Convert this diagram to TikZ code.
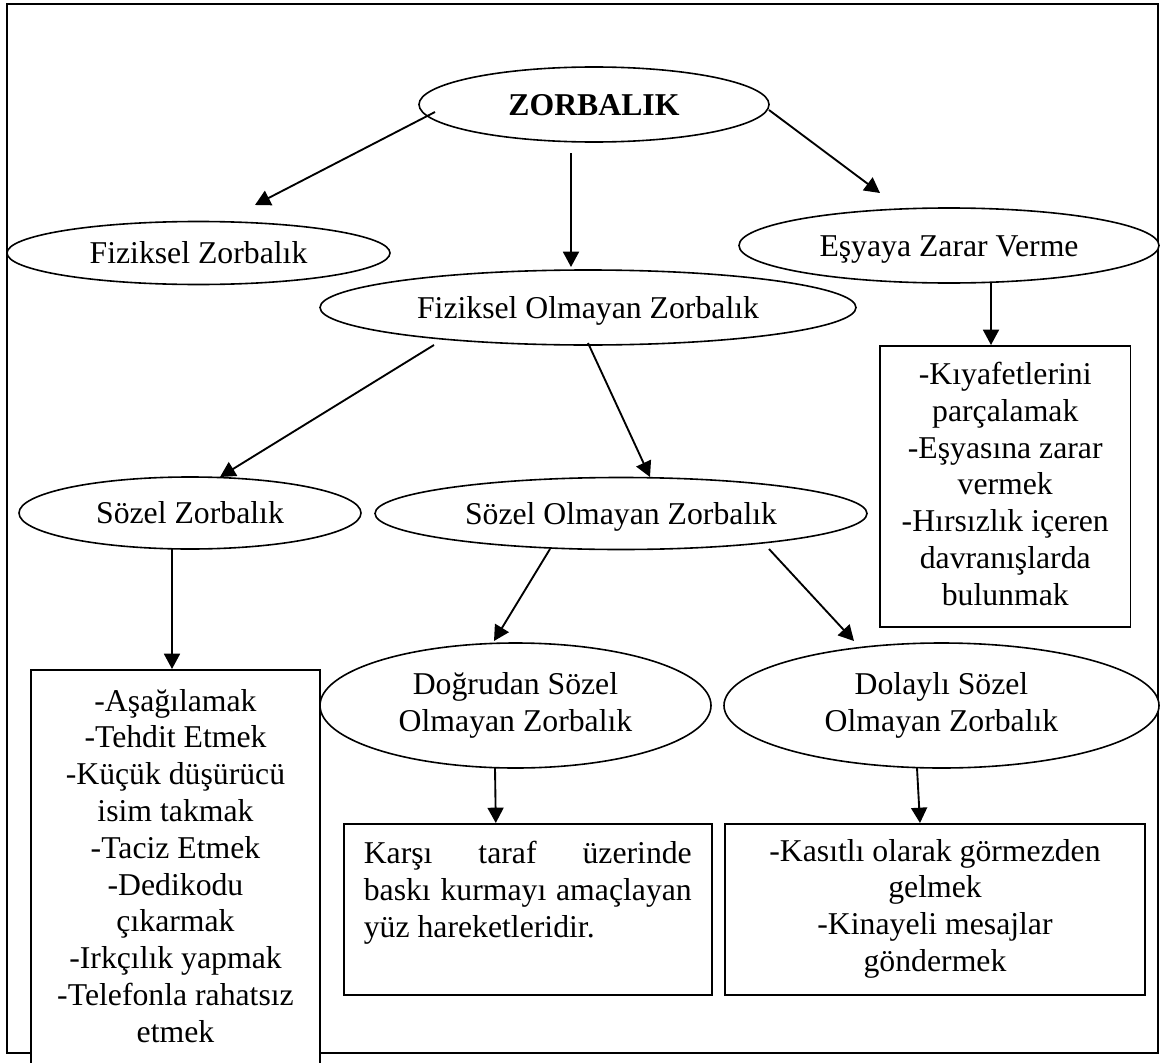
\documentclass[tikz,border=0pt]{standalone}
\usepackage{fontspec}
\setmainfont{Liberation Serif}
\usetikzlibrary{shapes.geometric,arrows.meta,calc}
\newlength\pxl
\setlength\pxl{0.75pt}
\begin{document}
\begin{tikzpicture}[x=0.75pt,y=-0.75pt,
  every node/.style={font=\fontsize{23.8pt}{27.6pt}\selectfont},
  oval/.style={draw, ellipse, line width=1.2pt, fill=white, inner sep=0pt, align=center},
  oneline/.style={text height=16.3pt, text depth=0pt},
  boxn/.style={draw, rectangle, line width=1.2pt, fill=white, inner xsep=0pt},
  arr/.style={line width=1.4pt, -{Triangle[length=11.5pt,width=12pt]}},
  frm/.style={line width=1.1pt}]
\useasboundingbox (0,0) rectangle (1160,1063);
\clip (0,0) rectangle (1160,1063);
\draw[frm] (7,4) rectangle (1158,1053);

% ellipses
\node[oval, oneline, minimum width=262.5pt, minimum height=56.25pt] (zor) at (594,104.5) {\textbf{ZORBALIK}};
\node[oval, oneline, minimum width=287.25pt, minimum height=47.25pt] (fiz) at (198.5,253) {Fiziksel Zorbalık};
\node[oval, oneline, minimum width=315pt, minimum height=56.25pt] (esy) at (949,245.5) {Eşyaya Zarar Verme};
\node[oval, oneline, minimum width=402pt, minimum height=56.25pt] (fom) at (588,307.5) {Fiziksel Olmayan Zorbalık};
\node[oval, oneline, minimum width=256.5pt, minimum height=54pt] (soz) at (190,513) {Sözel Zorbalık};
\node[oval, oneline, minimum width=369pt, minimum height=54pt] (som) at (621,513.5) {Sözel Olmayan Zorbalık};
\node[oval, minimum width=293.25pt, minimum height=93.75pt] (dog) at (515.5,705.5) {Doğrudan Sözel\\Olmayan Zorbalık};
\node[oval, minimum width=326.25pt, minimum height=93.75pt] (dol) at (941.5,705.5) {Dolaylı Sözel\\Olmayan Zorbalık};

% boxes
\node[boxn, anchor=north, inner ysep=12.2pt] (kiy) at (1005.25,345)
  {\parbox[t][248.4\pxl][t]{250.5\pxl}{\centering -Kıyafetlerini\\parçalamak\\-Eşyasına zarar\\vermek\\-Hırsızlık içeren\\davranışlarda\\bulunmak}};
\node[boxn, anchor=north, inner ysep=14.5pt] (b1) at (175.5,669)
  {\parbox[t][420\pxl][t]{289\pxl}{\centering -Aşağılamak\\-Tehdit Etmek\\-Küçük düşürücü\\isim takmak\\-Taciz Etmek\\-Dedikodu\\çıkarmak\\-Irkçılık yapmak\\-Telefonla rahatsız\\etmek}};
\node[boxn, anchor=north west, inner xsep=15pt, inner ysep=13pt] (kar) at (343,823)
  {\parbox[t][136.4\pxl][t]{328\pxl}{\hyphenpenalty=10000\exhyphenpenalty=10000 Karşı taraf üzerinde\linebreak baskı kurmayı amaçlayan\linebreak yüz hareketleridir.}};
\node[boxn, anchor=north, inner ysep=11.5pt] (kas) at (935,823)
  {\parbox[t][140.4\pxl][t]{420\pxl}{\centering -Kasıtlı olarak görmezden\\gelmek\\-Kinayeli mesajlar\\göndermek}};

% arrows
\draw[arr] ($(zor.center)+(-159,7.5)$) -- ($(fiz.center)+(56.5,-48)$);
\draw[arr] ($(zor.center)+(-23,48.5)$) -- ($(fom.center)+(-17,-40.5)$);
\draw[arr] ($(zor.center)+(175,5.5)$) -- ($(esy.center)+(-69,-52.5)$);
\draw[arr] ($(esy.center)+(42,37.5)$) -- ($(kiy.north)+(-14.25,0)$);
\draw[arr] ($(fom.center)+(-154,37.5)$) -- ($(soz.center)+(30,-36)$);
\draw[arr] ($(fom.center)+(0,35.5)$) -- ($(som.center)+(29,-36.5)$);
\draw[arr] ($(soz.center)+(-18,36)$) -- ($(b1.north)+(-3.5,0)$);
\draw[arr] ($(som.center)+(-71,35.5)$) -- ($(dog.center)+(-21.5,-64.5)$);
\draw[arr] ($(som.center)+(148,35.5)$) -- ($(dol.center)+(-87.5,-64.5)$);
\draw[arr] ($(dog.center)+(-20.5,62.5)$) -- ($(kar.north)+(-32,0)$);
\draw[arr] ($(dol.center)+(-24.5,62.5)$) -- ($(kas.north)+(-15,0)$);
\end{tikzpicture}
\end{document}
